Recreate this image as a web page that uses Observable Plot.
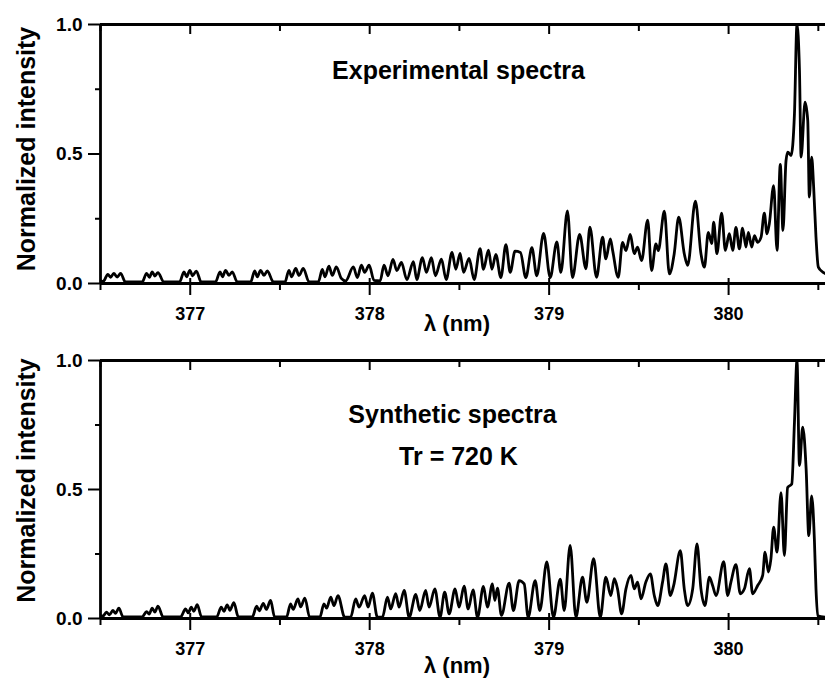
<!DOCTYPE html>
<html>
<head>
<meta charset="utf-8">
<script src="https://cdn.jsdelivr.net/npm/d3@7"></script>
<script src="https://cdn.jsdelivr.net/npm/@observablehq/plot@0.6"></script>
<style>
  html, body { margin: 0; padding: 0; background: white; }
  #chart { width: 825px; height: 679px; position: relative; overflow: hidden; }
  #chart svg { display: block; }
</style>
</head>
<body>
<div id="chart"></div>
<script>
// ---------- data ----------
const xDomain = [376.5, 380.54];
const xMajorTicks = [377, 378, 379, 380];
const xMinorTicks = [376.5, 377.5, 378.5, 379.5, 380.5];
const yMajorTicks = [0, 0.5, 1.0];
const yMinorTicks = [0.25, 0.75];
const xTitle = "λ (nm)";
const yTitle = "Normalized intensity";
const topTitles = ["Experimental spectra"];
const bottomTitles = ["Synthetic spectra", "Tr = 720 K"];

const expLambda = [
  376.505, 376.515, 376.541, 376.556, 376.574, 376.593, 376.612, 376.639,
  376.732, 376.757, 376.773, 376.788, 376.803, 376.820, 376.853,
  376.941, 376.965, 376.980, 376.998, 377.013, 377.034, 377.061,
  377.141, 377.166, 377.180, 377.197, 377.216, 377.234, 377.262,
  377.337, 377.359, 377.374, 377.392, 377.411, 377.430, 377.463,
  377.528, 377.550, 377.565, 377.588, 377.606, 377.630, 377.662,
  377.714, 377.736, 377.751, 377.773, 377.792, 377.814, 377.842, 377.866,
  377.909, 377.931, 377.954, 377.972, 377.997, 378.024, 378.058,
  378.080, 378.102, 378.130, 378.151, 378.177, 378.207, 378.244, 378.262,
  378.294, 378.316, 378.344, 378.366, 378.400, 378.426, 378.459, 378.480,
  378.504, 378.523, 378.554, 378.582, 378.615, 378.634, 378.662, 378.681,
  378.703, 378.731, 378.759, 378.783, 378.810, 378.840, 378.870, 378.904,
  378.931, 378.969, 379.006, 379.043, 379.065, 379.102, 379.130, 379.170,
  379.205, 379.227, 379.264, 379.298, 379.316, 379.341, 379.354, 379.385,
  379.409, 379.428, 379.452, 379.474, 379.493, 379.515, 379.549, 379.571,
  379.595, 379.608, 379.642, 379.670, 379.697, 379.722, 379.753, 379.772,
  379.815, 379.846, 379.865, 379.887, 379.906, 379.917, 379.935, 379.961,
  379.982, 380.004, 380.023, 380.041, 380.060, 380.078, 380.097, 380.110,
  380.129, 380.144, 380.162, 380.181, 380.199, 380.214, 380.227, 380.251,
  380.270, 380.288, 380.303, 380.320, 380.330, 380.348, 380.367, 380.381,
  380.395, 380.404, 380.426, 380.441, 380.450, 380.463, 380.474, 380.487,
  380.500, 380.525, 380.543
];
const expIntensity = [
  0.010, 0.008, 0.035, 0.024, 0.039, 0.025, 0.039, 0.006,
  0.006, 0.039, 0.024, 0.045, 0.029, 0.042, 0.006,
  0.006, 0.045, 0.026, 0.051, 0.030, 0.048, 0.006,
  0.006, 0.045, 0.026, 0.051, 0.031, 0.045, 0.006,
  0.006, 0.049, 0.026, 0.051, 0.031, 0.049, 0.006,
  0.006, 0.051, 0.026, 0.058, 0.031, 0.058, 0.006,
  0.006, 0.054, 0.026, 0.067, 0.031, 0.064, 0.020, 0.010,
  0.064, 0.023, 0.071, 0.043, 0.071, 0.012, 0.010,
  0.071, 0.030, 0.093, 0.050, 0.081, 0.015, 0.084, 0.015,
  0.100, 0.043, 0.100, 0.030, 0.094, 0.015, 0.120, 0.055,
  0.116, 0.043, 0.097, 0.015, 0.135, 0.055, 0.129, 0.055,
  0.112, 0.023, 0.150, 0.043, 0.125, 0.120, 0.023, 0.138,
  0.030, 0.193, 0.023, 0.161, 0.043, 0.280, 0.023, 0.190,
  0.057, 0.218, 0.024, 0.179, 0.095, 0.172, 0.127, 0.024,
  0.159, 0.127, 0.190, 0.115, 0.140, 0.088, 0.245, 0.050,
  0.153, 0.127, 0.279, 0.037, 0.115, 0.256, 0.115, 0.070,
  0.318, 0.115, 0.063, 0.197, 0.154, 0.237, 0.115, 0.272,
  0.128, 0.192, 0.128, 0.217, 0.134, 0.214, 0.141, 0.197,
  0.141, 0.185, 0.159, 0.179, 0.272, 0.192, 0.231, 0.378,
  0.128, 0.460, 0.205, 0.474, 0.507, 0.494, 0.655, 1.000,
  0.822, 0.488, 0.700, 0.630, 0.334, 0.488, 0.372, 0.179,
  0.063, 0.044, 0.037
];

const synLambda = [
  376.505, 376.515, 376.533, 376.550, 376.569, 376.584, 376.602, 376.626,
  376.732, 376.757, 376.771, 376.788, 376.803, 376.820, 376.849,
  376.946, 376.974, 376.989, 377.006, 377.020, 377.039, 377.063,
  377.147, 377.173, 377.188, 377.206, 377.221, 377.243, 377.268,
  377.346, 377.370, 377.385, 377.407, 377.424, 377.448, 377.470,
  377.537, 377.559, 377.574, 377.600, 377.615, 377.639, 377.665,
  377.723, 377.745, 377.760, 377.783, 377.801, 377.823, 377.861, 377.894,
  377.922, 377.941, 377.972, 377.991, 378.015, 378.043, 378.071,
  378.099, 378.117, 378.145, 378.164, 378.192, 378.220, 378.257, 378.279,
  378.312, 378.331, 378.363, 378.392, 378.418, 378.443, 378.476, 378.498,
  378.526, 378.549, 378.576, 378.601, 378.634, 378.656, 378.684, 378.697,
  378.712, 378.734, 378.777, 378.801, 378.833, 378.861, 378.883, 378.922,
  378.948, 378.987, 379.024, 379.062, 379.084, 379.117, 379.149, 379.186,
  379.210, 379.248, 379.285, 379.316, 379.344, 379.363, 379.381, 379.404,
  379.428, 379.456, 379.474, 379.493, 379.512, 379.539, 379.564, 379.586,
  379.605, 379.632, 379.651, 379.675, 379.694, 379.731, 379.753, 379.772,
  379.800, 379.824, 379.846, 379.868, 379.893, 379.911, 379.930, 379.973,
  379.995, 380.013, 380.041, 380.065, 380.088, 380.116, 380.134, 380.162,
  380.190, 380.203, 380.222, 380.236, 380.251, 380.270, 380.292, 380.311,
  380.329, 380.352, 380.367, 380.381, 380.395, 380.413, 380.432, 380.447,
  380.463, 380.478, 380.487, 380.497, 380.543
];
const synIntensity = [
  0.010, 0.010, 0.025, 0.014, 0.031, 0.020, 0.040, 0.006,
  0.006, 0.027, 0.017, 0.040, 0.025, 0.048, 0.006,
  0.006, 0.037, 0.022, 0.044, 0.028, 0.054, 0.006,
  0.006, 0.044, 0.028, 0.053, 0.032, 0.061, 0.006,
  0.006, 0.048, 0.030, 0.059, 0.035, 0.070, 0.006,
  0.006, 0.057, 0.035, 0.076, 0.045, 0.079, 0.006,
  0.006, 0.057, 0.040, 0.083, 0.050, 0.089, 0.005, 0.005,
  0.076, 0.044, 0.089, 0.044, 0.098, 0.005, 0.005,
  0.083, 0.037, 0.096, 0.044, 0.109, 0.005, 0.093, 0.031,
  0.109, 0.044, 0.115, 0.005, 0.102, 0.018, 0.115, 0.044,
  0.125, 0.037, 0.111, 0.005, 0.124, 0.044, 0.134, 0.070,
  0.118, 0.012, 0.137, 0.031, 0.147, 0.134, 0.005, 0.147,
  0.031, 0.219, 0.005, 0.153, 0.031, 0.283, 0.005, 0.160,
  0.063, 0.232, 0.005, 0.160, 0.089, 0.154, 0.115, 0.018,
  0.115, 0.167, 0.115, 0.141, 0.076, 0.141, 0.173, 0.089,
  0.050, 0.141, 0.212, 0.089, 0.128, 0.263, 0.115, 0.050,
  0.115, 0.289, 0.115, 0.050, 0.160, 0.128, 0.089, 0.220,
  0.089, 0.141, 0.209, 0.096, 0.115, 0.193, 0.096, 0.128,
  0.167, 0.257, 0.180, 0.232, 0.354, 0.257, 0.488, 0.244,
  0.508, 0.521, 0.760, 1.000, 0.593, 0.742, 0.581, 0.321,
  0.475, 0.307, 0.115, 0.010, 0.005
];

// ---------- drawing ----------
const FONT = "'Liberation Sans', Arial, Helvetica, sans-serif";

function panel({lam, inten, height, marginTop, marginBottom, titles, xTitleDy, yTitleDy}) {
  const rows = lam.map((x, i) => ({x, y: inten[i]}));
  return Plot.plot({
    width: 825, height,
    marginLeft: 100, marginRight: 0, marginTop, marginBottom,
    x: {domain: xDomain},
    y: {domain: [0, 1]},
    style: {fontFamily: FONT, fontWeight: "bold", color: "black", background: "white", overflow: "visible"},
    marks: [
      Plot.line(rows, {x: "x", y: "y", curve: "monotone-x", stroke: "black", strokeWidth: 2.8}),
      Plot.ruleY([0], {stroke: "black", strokeWidth: 2.8}),
      Plot.ruleY([1], {stroke: "black", strokeWidth: 2.8}),
      Plot.ruleX([xDomain[0]], {stroke: "black", strokeWidth: 2.8}),
      Plot.axisX(xMajorTicks, {anchor: "bottom", tickSize: 12, tickPadding: 12, strokeWidth: 2,
        fontSize: 18, fontWeight: "bold", label: null, tickFormat: d => String(d)}),
      Plot.axisX(xMajorTicks, {anchor: "bottom", tickSize: -5, fill: "none", strokeWidth: 2, label: null}),
      Plot.axisX(xMinorTicks, {anchor: "bottom", tickSize: 7, fill: "none", strokeWidth: 2, label: null}),
      Plot.axisX(xMajorTicks, {anchor: "top", tickSize: -9, fill: "none", strokeWidth: 2, label: null}),
      Plot.axisX(xMinorTicks, {anchor: "top", tickSize: -6, fill: "none", strokeWidth: 2, label: null}),
      Plot.axisY(yMajorTicks, {anchor: "left", tickSize: 12, tickPadding: 6, strokeWidth: 2,
        fontSize: 19, fontWeight: "bold", label: null, tickFormat: d3.format(".1f")}),
      Plot.axisY(yMinorTicks, {anchor: "left", tickSize: 5, fill: "none", strokeWidth: 2, label: null}),
      Plot.text([yTitle], {text: d => d, frameAnchor: "left", rotate: -90, textAnchor: "middle", lineAnchor: "middle",
        dx: -74, dy: yTitleDy, fontSize: 25, fontWeight: "bold"}),
      Plot.text([xTitle], {text: d => d, frameAnchor: "bottom", textAnchor: "middle", lineAnchor: "middle",
        dx: -6, dy: xTitleDy, fontSize: 22, fontWeight: "bold"}),
      ...titles.map(t => Plot.text([t.text], {
        text: d => d, frameAnchor: "top", textAnchor: "middle", lineAnchor: "middle",
        dx: t.dx, dy: t.dy, fontSize: 25, fontWeight: "bold"
      }))
    ]
  });
}

const chart = document.getElementById("chart");
chart.appendChild(panel({
  lam: expLambda, inten: expIntensity,
  height: 340, marginTop: 24, marginBottom: 57,
  titles: [{text: topTitles[0], dx: -4.5, dy: 46}],
  xTitleDy: 40, yTitleDy: -5
}));
chart.appendChild(panel({
  lam: synLambda, inten: synIntensity,
  height: 339, marginTop: 20, marginBottom: 61,
  titles: [{text: bottomTitles[0], dx: -10.5, dy: 54}, {text: bottomTitles[1], dx: -4.5, dy: 96}],
  xTitleDy: 47, yTitleDy: -9
}));
</script>
</body>
</html>
